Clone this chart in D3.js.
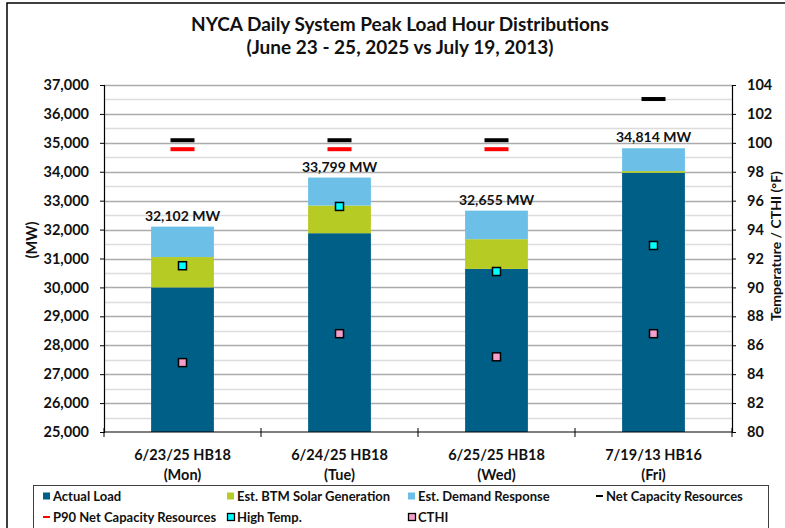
<!DOCTYPE html>
<html>
<head>
<meta charset="utf-8">
<script src="https://cdn.jsdelivr.net/npm/d3@7"></script>
<style>
  body { margin: 0; background: #fff; }
  text { font-family: Lato, 'Open Sans', sans-serif; fill: #111; }
</style>
</head>
<body>
<svg class="peakViz" width="785" height="528"></svg>
<script>
const categories = ['6/23/25 HB18', '6/24/25 HB18', '6/25/25 HB18', '7/19/13 HB16'];
const dayLabels = ['(Mon)', '(Tue)', '(Wed)', '(Fri)'];

// MW stacks
const actualLoad = [30000, 31875, 30640, 33962];
const btmSolar = [1050, 955, 1028, 60];
const demandResponse = [1052, 969, 987, 792];

// capacity markers (MW)
const netCapacity = [35090, 35090, 35090, 36515];
const p90NetCapacity = [34780, 34780, 34780, null];

// temperatures (F), right axis
const highTemp = [91.5, 95.6, 91.1, 92.9];
const cthi = [84.8, 86.8, 85.2, 86.8];

const leftTicks = d3.range(25000, 37001, 1000);
const rightTicks = d3.range(80, 105, 2);

const seriesNames = ['Actual Load', 'Est. BTM Solar Generation', 'Est. Demand Response'];
const seriesColors = ['#005f86', '#b6cb23', '#6cc0e8'];

const plot = { left: 104, right: 732, top: 85, bottom: 432 };

const svg = d3.select('svg.peakViz');

svg.append('rect')
   .attr('x', 0).attr('y', 0)
   .attr('width', 785).attr('height', 528)
   .style('fill', '#fff');

// outer chart border (cut off on the right/bottom like the source)
svg.append('rect')
   .attr('x', 7).attr('y', 3)
   .attr('width', 800).attr('height', 560)
   .style('fill', 'none')
   .style('stroke', '#000')
   .style('stroke-width', 1.5);

const x = d3.scaleBand()
            .domain(categories)
            .range([plot.left, plot.right]);

const yL = d3.scaleLinear()
             .domain([25000, 37000])
             .range([plot.bottom, plot.top]);

const yR = d3.scaleLinear()
             .domain([80, 104])
             .range([plot.bottom, plot.top]);

const barW = x.bandwidth() * 0.4;
const cx = d => x(d) + x.bandwidth() / 2;

// gridlines, major every 1000 and minor every 500
const gridVals = d3.range(25500, 37001, 500);
svg.append('g')
   .selectAll('line.grid')
   .data(gridVals)
   .enter()
   .append('line')
   .attr('class', 'grid')
   .attr('x1', plot.left)
   .attr('x2', plot.right)
   .attr('y1', d => Math.round(yL(d)) + 0.5)
   .attr('y2', d => Math.round(yL(d)) + 0.5)
   .style('stroke', d => d % 1000 == 0 ? '#ababab' : '#dcdcdc')
   .style('stroke-width', 1.5);

// stacked bars
const stackData = categories.map((c, i) => ({
  cat: c,
  parts: [actualLoad[i], btmSolar[i], demandResponse[i]]
}));

const yMin = yL.domain()[0];
const barG = svg.append('g').attr('class', 'bars');
stackData.forEach(d => {
  let base = 0;
  d.parts.forEach((v, j) => {
    const lo = Math.max(base, yMin);
    barG.append('rect')
        .attr('x', x(d.cat) + (x.bandwidth() - barW) / 2)
        .attr('y', yL(base + v))
        .attr('width', barW)
        .attr('height', yL(lo) - yL(base + v))
        .style('fill', seriesColors[j]);
    base += v;
  });
});

// total labels
svg.append('g')
   .selectAll('text.total')
   .data(stackData)
   .enter()
   .append('text')
   .attr('class', 'total')
   .attr('x', d => cx(d.cat))
   .attr('y', d => yL(d3.sum(d.parts)) - 6)
   .attr('text-anchor', 'middle')
   .style('font-size', '14px')
   .style('font-weight', 'bold')
   .text(d => `${d3.format(',')(d3.sum(d.parts))} MW`);

// capacity dashes
const dashW = 24;
svg.append('g')
   .selectAll('rect.netcap')
   .data(categories)
   .enter()
   .append('rect')
   .attr('x', d => cx(d) - dashW / 2)
   .attr('y', (d, i) => yL(netCapacity[i]) - 2)
   .attr('width', dashW)
   .attr('height', 4)
   .style('fill', '#000');

svg.append('g')
   .selectAll('rect.p90')
   .data(categories.filter((d, i) => p90NetCapacity[i] != null))
   .enter()
   .append('rect')
   .attr('x', d => cx(d) - dashW / 2)
   .attr('y', (d, i) => yL(p90NetCapacity[i]) - 2)
   .attr('width', dashW)
   .attr('height', 4)
   .style('fill', '#ff0000');

// temperature markers
const mk = 8;
svg.append('g')
   .selectAll('rect.cthi')
   .data(categories)
   .enter()
   .append('rect')
   .attr('x', d => cx(d) - mk / 2)
   .attr('y', (d, i) => yR(cthi[i]) - mk / 2)
   .attr('width', mk)
   .attr('height', mk)
   .style('fill', '#f59ecb')
   .style('stroke', '#000')
   .style('stroke-width', 1.5);

svg.append('g')
   .selectAll('rect.hightemp')
   .data(categories)
   .enter()
   .append('rect')
   .attr('x', d => cx(d) - mk / 2)
   .attr('y', (d, i) => yR(highTemp[i]) - mk / 2)
   .attr('width', mk)
   .attr('height', mk)
   .style('fill', '#00ffff')
   .style('stroke', '#000')
   .style('stroke-width', 1.5);

// axes
const axisL = svg.append('g')
                 .attr('transform', `translate(${plot.left}, 0)`)
                 .call(d3.axisLeft(yL).tickValues(leftTicks).tickFormat(d3.format(',')).tickSize(4).tickPadding(11));

const axisR = svg.append('g')
                 .attr('transform', `translate(${plot.right}, 0)`)
                 .call(d3.axisRight(yR).tickValues(rightTicks).tickSize(4).tickPadding(11));

[axisL, axisR].forEach(a => {
  a.select('.domain').style('stroke', '#000').style('stroke-width', 1.2);
  a.selectAll('.tick line').style('stroke', '#000');
  a.selectAll('.tick text')
   .style('font-family', 'Lato, sans-serif')
   .style('font-size', '14.5px')
   .style('font-weight', 'bold')
   .style('fill', '#111');
});

// category axis with boundary ticks
svg.append('line')
   .attr('x1', plot.left).attr('x2', plot.right)
   .attr('y1', plot.bottom).attr('y2', plot.bottom)
   .style('stroke', '#000').style('stroke-width', 1.2);

const bounds = categories.map(d => x(d)).concat([plot.right]);
svg.append('g')
   .selectAll('line.ctick')
   .data(bounds)
   .enter()
   .append('line')
   .attr('x1', d => d).attr('x2', d => d)
   .attr('y1', plot.bottom - 4).attr('y2', plot.bottom + 5)
   .style('stroke', '#000');

const catText = svg.append('g')
                   .selectAll('text.cat')
                   .data(categories)
                   .enter()
                   .append('text')
                   .attr('class', 'cat')
                   .attr('text-anchor', 'middle')
                   .style('font-size', '14.5px')
                   .style('font-weight', 'bold');
catText.append('tspan')
       .attr('x', d => cx(d))
       .attr('y', 460)
       .text(d => d);
catText.append('tspan')
       .attr('x', d => cx(d))
       .attr('y', 480)
       .text((d, i) => dayLabels[i]);

// axis titles
svg.append('text')
   .attr('transform', 'translate(37, 240) rotate(-90)')
   .attr('text-anchor', 'middle')
   .style('font-size', '14.5px')
   .style('font-weight', 'bold')
   .text('(MW)');

svg.append('text')
   .attr('transform', 'translate(781, 246) rotate(-90)')
   .attr('text-anchor', 'middle')
   .style('font-size', '14px')
   .style('font-weight', 'bold')
   .text('Temperature / CTHI (°F)');

// title
svg.append('text')
   .attr('x', 400).attr('y', 31)
   .attr('text-anchor', 'middle')
   .style('font-size', '19px')
   .style('font-weight', 'bold')
   .text('NYCA Daily System Peak Load Hour Distributions');
svg.append('text')
   .attr('x', 400).attr('y', 54)
   .attr('text-anchor', 'middle')
   .style('font-size', '19px')
   .style('font-weight', 'bold')
   .text('(June 23 - 25, 2025 vs July 19, 2013)');

// legend
svg.append('rect')
   .attr('x', 33.5).attr('y', 485.5)
   .attr('width', 735).attr('height', 60)
   .style('fill', '#fff')
   .style('stroke', '#404040')
   .style('stroke-width', 1);

const legendItems = [
  { name: seriesNames[0], type: 'box', color: seriesColors[0], x: 43, y: 496 },
  { name: seriesNames[1], type: 'box', color: seriesColors[1], x: 227, y: 496 },
  { name: seriesNames[2], type: 'box', color: seriesColors[2], x: 408, y: 496 },
  { name: 'Net Capacity Resources', type: 'dash', color: '#000', x: 596, y: 496 },
  { name: 'P90 Net Capacity Resources', type: 'dash', color: '#ff0000', x: 43, y: 517 },
  { name: 'High Temp.', type: 'marker', color: '#00ffff', x: 227, y: 517 },
  { name: 'CTHI', type: 'marker', color: '#f59ecb', x: 408, y: 517 }
];

const leg = svg.append('g')
               .selectAll('g.leg')
               .data(legendItems)
               .enter()
               .append('g')
               .attr('class', 'leg')
               .attr('transform', d => `translate(${d.x}, ${d.y})`);

leg.filter(d => d.type == 'box')
   .append('rect')
   .attr('x', 0).attr('y', -3.5)
   .attr('width', 7).attr('height', 7)
   .style('fill', d => d.color);

leg.filter(d => d.type == 'dash')
   .append('rect')
   .attr('x', 0).attr('y', -1)
   .attr('width', 7).attr('height', 2)
   .style('fill', d => d.color);

leg.filter(d => d.type == 'marker')
   .append('rect')
   .attr('x', 0.5).attr('y', -3.5)
   .attr('width', 7).attr('height', 7)
   .style('fill', d => d.color)
   .style('stroke', '#000')
   .style('stroke-width', 1.3);

leg.append('text')
   .attr('x', 10)
   .attr('y', 5)
   .style('font-size', '13px')
   .style('font-weight', 'bold')
   .text(d => d.name);
</script>
</body>
</html>
